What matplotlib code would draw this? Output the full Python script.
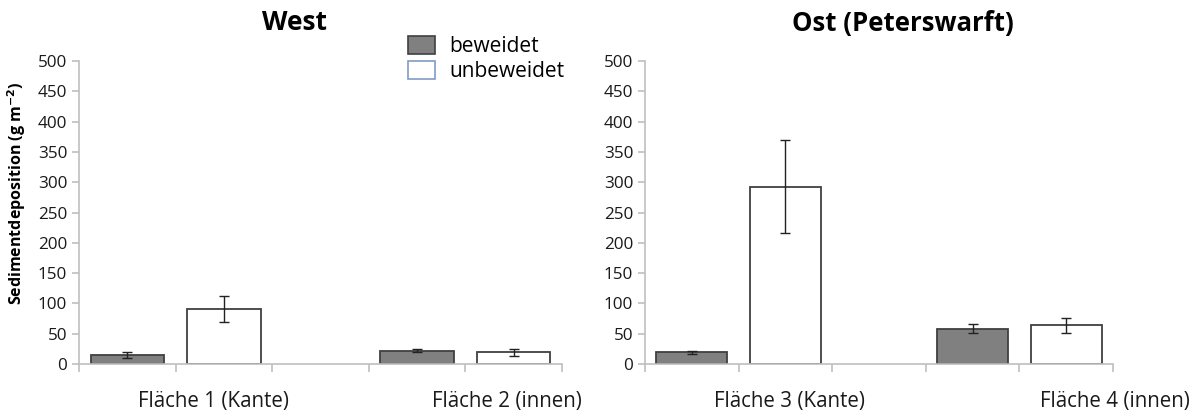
import matplotlib.pyplot as plt
import numpy as np
from matplotlib.patches import Patch

plt.rcParams['font.family'] = ['Open Sans', 'DejaVu Sans']

# five slots per panel, bars in slots 0,1 and 3,4
slots = [0, 1, 3, 4]
west_values = [15, 91, 22, 19]
west_errors = [5, 22, 3, 5]
ost_values = [19, 293, 58, 64]
ost_errors = [3, 77, 7.5, 12.5]
bar_colors = ['#808080', 'white', '#808080', 'white']
west_labels = ['Fläche 1 (Kante)', 'Fläche 2 (innen)']
ost_labels = ['Fläche 3 (Kante)', 'Fläche 4 (innen)']
yticks = np.arange(0, 501, 50)

edge = '#404040'
axis_grey = '#bfbfbf'

fig = plt.figure(figsize=(12.02, 4.16), dpi=100)
ax1 = fig.add_axes([0.0657, 0.125, 0.4018, 0.728])
ax2 = fig.add_axes([0.5366, 0.125, 0.3894, 0.728])


def draw_panel(ax, values, errors, labels, label_pos):
    ax.bar(slots, values, width=0.76, color=bar_colors, edgecolor=edge, linewidth=1.3, zorder=2)
    ax.errorbar(slots, values, yerr=errors, fmt='none', ecolor='#222222',
                elinewidth=1.0, capsize=3.5, capthick=1.0, zorder=3)
    ax.set_xlim(-0.5, 4.5)
    ax.set_ylim(0, 500)
    ax.set_yticks(yticks)
    ax.set_xticks(np.arange(-0.5, 4.6, 1))
    ax.set_xticklabels([])
    for sp in ['top', 'right']:
        ax.spines[sp].set_visible(False)
    for sp in ['left', 'bottom']:
        ax.spines[sp].set_color(axis_grey)
        ax.spines[sp].set_linewidth(1.2)
    ax.tick_params(axis='both', colors=axis_grey, width=1.2, length=5, labelcolor='#1a1a1a', labelsize=12.3)
    ax.tick_params(axis='x', length=6)
    for lab, xp in zip(labels, label_pos):
        ax.text(xp, -0.125, lab, transform=ax.get_xaxis_transform(), ha='center', va='center',
                fontsize=14.8, color='#1a1a1a')


draw_panel(ax1, west_values, west_errors, west_labels, [0.89, 3.93])
draw_panel(ax2, ost_values, ost_errors, ost_labels, [1.04, 4.52])

ax1.set_ylabel(r'Sedimentdeposition (g m$^{\mathbf{-2}}$)', fontsize=11.5, fontweight='bold')
ax1.yaxis.set_label_coords(-0.105, 0.564)

fig.text(294 / 1202, 1 - 23 / 416, 'West', ha='center', va='center', fontsize=19, fontweight='bold')
fig.text(903 / 1202, 1 - 23 / 416, 'Ost (Peterswarft)', ha='center', va='center', fontsize=18.5, fontweight='bold')

handles = [Patch(facecolor='#808080', edgecolor=edge, linewidth=1.2, label='beweidet'),
           Patch(facecolor='white', edgecolor='#7f9cc4', linewidth=1.2, label='unbeweidet')]
fig.legend(handles=handles, loc='upper left', bbox_to_anchor=(393 / 1202, 1 - 21 / 416), frameon=False,
           fontsize=15, handlelength=1.3, handleheight=0.95, handletextpad=0.7, labelspacing=0.2,
           borderpad=0.2)

fig.savefig('out.png', dpi=100)
